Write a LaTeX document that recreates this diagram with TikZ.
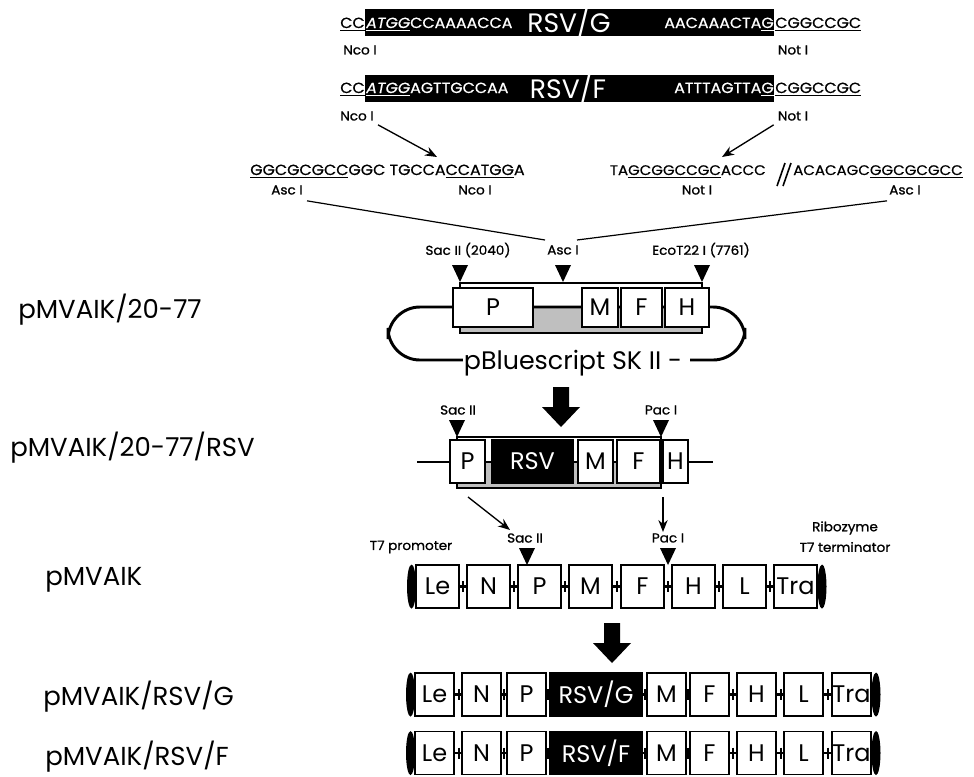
\documentclass[tikz,border=0pt]{standalone}
\usepackage{fontspec}
\setmainfont{Poppins}
\newfontfamily\seqfont{Poppins}[FakeStretch=1.08, FakeBold=0.6]
\newfontfamily\labfont{Poppins}[FakeStretch=1.05, FakeBold=1.0]
\usetikzlibrary{arrows.meta,fit}
\begin{document}
\begin{tikzpicture}[x=0.75pt,y=-0.75pt,
  seq/.style={inner sep=0pt, font=\seqfont\fontsize{11}{12}\selectfont},
  wseq/.style={seq, text=white},
  rseq/.style={inner sep=0pt, font=\seqfont\fontsize{10.4}{12}\selectfont},
  lab/.style={inner sep=0pt, font=\labfont\fontsize{9.7}{10}\selectfont},
  big/.style={inner sep=0pt, font=\fontsize{20}{22}\selectfont},
  gene/.style={draw, line width=1pt, fill=white, inner sep=0pt},
  blk/.style={gene, fill=black},
  gtxt/.style={font=\fontsize{18}{20}\selectfont, inner sep=0pt},
  side/.style={inner sep=0pt, font=\fontsize{19.5}{22}\selectfont, anchor=west},
  thinl/.style={line width=0.9pt},
  thickl/.style={line width=2.2pt},
  arr/.style={line width=1pt, -{Stealth[length=9pt,width=7pt]}},
  rtri/.pic={\fill (-8,-17) -- (8,-17) -- (0,0) -- cycle;},
  bigarrow/.pic={\fill (-8,0) -- (8,0) -- (8,20) -- (19,20) -- (0,40) -- (-19,20) -- (-8,20) -- cycle;}
]
\useasboundingbox (0,0) rectangle (974,776);

% ---------- top insert sequences ----------
\fill (365,9) rectangle (774,36);
\node[seq, anchor=base east] (cc1) at (365,28) {\underline{CC}};
\node[wseq, anchor=base west] (g1a) at (366,28) {\underline{\textit{ATGG}}CCAAAACCA};
\node[big, text=white] (rsvg) at (569,22) {RSV/G};
\node[wseq, anchor=base east] (g1b) at (774,28) {AACAAACTA\underline{G}};
\node[seq, anchor=base west] (g1c) at (775,28) {\underline{CGGCCGC}};
\node[lab] (nco1) at (360,50) {Nco I};
\node[lab] (not1) at (793,50) {Not I};

\fill (365,75) rectangle (774,102);
\node[seq, anchor=base east] (cc2) at (365,93) {\underline{CC}};
\node[wseq, anchor=base west] (f1a) at (366,93) {\underline{\textit{ATGG}}AGTTGCCAA};
\node[big, text=white] (rsvf) at (568,88) {RSV/F};
\node[wseq, anchor=base east] (f1b) at (774,93) {ATTTAGTTA\underline{G}};
\node[seq, anchor=base west] (f1c) at (775,93) {\underline{CGGCCGC}};
\node[lab] (nco2) at (357,116) {Nco I};
\node[lab] (not2) at (793,116) {Not I};

% ---------- vector sequences ----------
\node[seq, anchor=base west] (vl) at (250,175) {\underline{GGCGCGCC}GGC TGCCA\underline{CCATGG}A};
\node[lab] (asc1) at (287,190) {Asc I};
\node[lab] (nco3) at (475,190) {Nco I};
\node[rseq, anchor=base east] (vr1) at (766,175) {TA\underline{GCGGCCGC}ACCC};
\draw[line width=1.2pt] (777,186) -- (785,163) (783,186) -- (791,163);
\node[rseq, anchor=base west] (vr2) at (793,175) {ACACAGC\underline{GGCGCGCC}};
\node[lab] (not3) at (697,190) {Not I};
\node[lab] (asc2) at (905,190) {Asc I};

\coordinate (t1) at (437,157);
\coordinate (t2) at (722,157);
\draw[arr] (nco2.south east) ++(4,4) -- (t1);
\draw[arr] (not2.south west) ++(-4,4) -- (t2);

% ---------- pMVAIK/20-77 ----------
\node[lab] (sac1) at (468,250) {Sac II (2040)};
\node[lab] (asc3) at (563,250) {Asc I};
\node[lab] (eco) at (701,250) {EcoT22 I (7761)};
\coordinate (al) at (545,240);
\coordinate (ar) at (577,240);
\draw[thinl] (asc1.south) ++(20,6) -- (al);
\draw[thinl] (asc2.south) ++(-18,6) -- (ar);
\pic at (460,282) {rtri};
\pic at (563,282) {rtri};
\pic at (702,282) {rtri};
\draw[thinl, fill=white] (460,283) rectangle (702,333);
\fill[gray!50] (460,307) rectangle (702,333);
\draw[thinl] (460,283) rectangle (702,333);
\draw[thickl, rounded corners=24] (470,360) -- (388,360) -- (388,307) -- (745,307) -- (745,360) -- (690,360);
\node[gene, fit={(453,288) (533,327)}] (p1) {};
\node[gtxt] at (p1.center) {P};
\node[gene, fit={(582,288) (618,327)}] (m1) {};
\node[gtxt] at (m1.center) {M};
\node[gene, fit={(621,288) (662,327)}] (f1) {};
\node[gtxt] at (f1.center) {F};
\node[gene, fit={(665,288) (709,327)}] (h1) {};
\node[gtxt] at (h1.center) {H};
\node[inner sep=1pt, fill=white, font=\fontsize{19}{22}\selectfont] (pbs) at (573,363) {pBluescript SK II -};

\pic at (561,387) {bigarrow};

% ---------- pMVAIK/20-77/RSV ----------
\node[lab] (sac2) at (458,410) {Sac II};
\node[lab] (pac1) at (661,410) {Pac I};
\pic at (457,437) {rtri};
\pic at (661,437) {rtri};
\draw[thinl, fill=white] (457,437) rectangle (661,488);
\fill[gray!50] (457,462) rectangle (661,488);
\draw[thinl] (457,437) rectangle (661,488);
\draw[thickl] (417,462) -- (713,462);
\node[gene, fit={(450,440) (485,483)}] (p2) {};
\node[gtxt] at (p2.center) {P};
\node[blk, fit={(492,440) (573,483)}] (rsv2) {};
\node[gtxt, text=white] at (rsv2.center) {RSV};
\node[gene, fit={(578,440) (613,483)}] (m2) {};
\node[gtxt] at (m2.center) {M};
\node[gene, fit={(617,440) (660,483)}] (f2) {};
\node[gtxt] at (f2.center) {F};
\node[gene, fit={(663,440) (688,483)}] (h2) {};
\node[gtxt] at (h2.center) {H};

\coordinate (s3) at (510,530);
\coordinate (pc3) at (663,532);
\draw[arr] (468,497) -- (s3);
\draw[arr] (663,497) -- (pc3);

% ---------- pMVAIK ----------
\node[lab] (t7p) at (411,547) {T7 promoter};
\node[lab] (ribo) at (845,528) {Ribozyme};
\node[lab] (t7t) at (845,547) {T7 terminator};
\node[lab] (sac3) at (525,538) {Sac II};
\node[lab] (pac3) at (668,538) {Pac I};
\pic at (527,565) {rtri};
\pic at (668,565) {rtri};
\draw[thickl] (411,586.5) -- (822,586.5);
\foreach \x in {463,514,565,617,668,719,770} \draw[thickl] (\x,581) -- (\x,592);
\foreach \x/\t/\n in {416/Le/a1,467/N/a2,518/P/a3,569/M/a4,621/F/a5,672/H/a6,723/L/a7,774/Tra/a8}{
  \node[gene, fit={(\x,565) (\x+43,608)}] (\n) {};
  \node[gtxt] at (\n.center) {\t};
}
\fill (411.5,586.5) ellipse (4.5 and 22);
\fill (822,586.5) ellipse (4.5 and 22);

\pic at (612,623) {bigarrow};

% ---------- pMVAIK/RSV/G and /F ----------
\foreach \y/\r in {694.5/G,753/F}{
  \draw[thickl] (410,\y) -- (876,\y);
  \foreach \x in {459,504,548,645,688,733,781,828} \draw[thickl] (\x,\y-5.5) -- (\x,\y+5.5);
  \foreach \x/\t/\n in {415/Le/b1,462/N/b2,507/P/b3,647/M/b5,690/F/b6,737/H/b7,784/L/b8,832/Tra/b9}{
    \node[gene, fit={(\x,\y-21.5) (\x+39,\y+21.5)}] (\n\r) {};
    \node[gtxt] at (\n\r.center) {\t};
  }
  \node[blk, fit={(550,\y-21.5) (642,\y+21.5)}] (rsv\r) {};
  \node[gtxt, text=white] at (rsv\r.center) {RSV/\r};
  \fill (410.5,\y) ellipse (4.5 and 22);
  \fill (876,\y) ellipse (4.5 and 22);
}

% ---------- side labels ----------
\node[side] (l1) at (18,310) {pMVAIK/20-77};
\node[side] (l2) at (10,448) {pMVAIK/20-77/RSV};
\node[side] (l3) at (45,580) {pMVAIK};
\node[side] (l4) at (43,697) {pMVAIK/RSV/G};
\node[side] (l5) at (45,757) {pMVAIK/RSV/F};
\end{tikzpicture}
\end{document}
